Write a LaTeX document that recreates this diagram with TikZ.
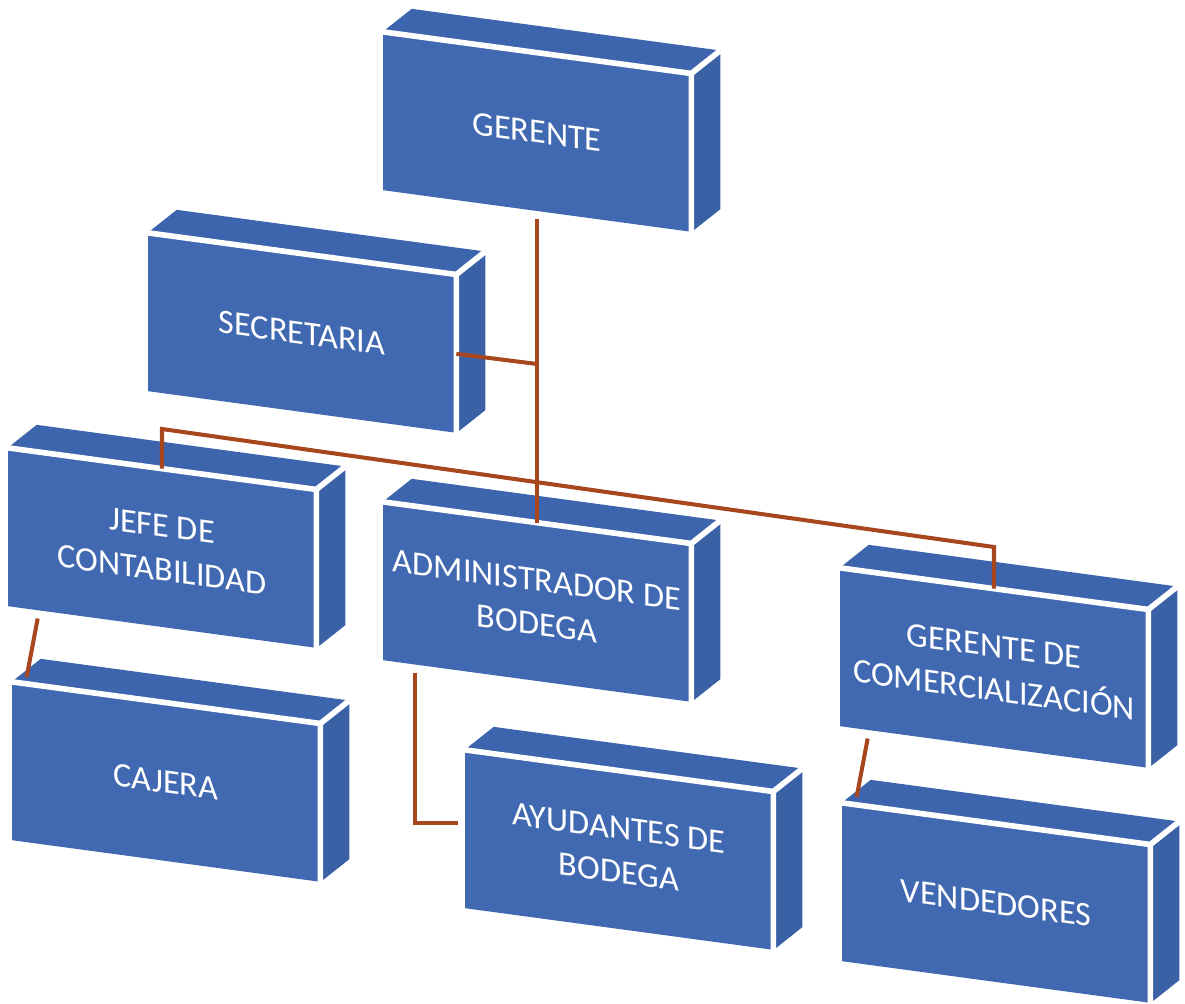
\documentclass[tikz,border=0pt]{standalone}
\usepackage{fontspec}
\setmainfont{Carlito}
\usetikzlibrary{calc}
\definecolor{cajafrente}{HTML}{4169B1}
\definecolor{cajatapa}{HTML}{3D65AD}
\definecolor{cajalado}{HTML}{3A60A6}
\definecolor{linea}{HTML}{A8461E}

\begin{document}
\begin{tikzpicture}[x=0.02cm, y=-0.02cm]
\tikzset{caja/.style={fill=cajafrente, text=white, yslant=-0.135, minimum width=6.16cm, minimum height=3.16cm, inner sep=0pt, align=center, font=\fontsize{19.5}{25}\selectfont},
  enlace/.style={draw=linea, line width=2.3pt},
  borde/.style={draw=white, line width=3.2pt}}
\useasboundingbox (0,0) rectangle (1185,1003);
\node[caja] (gerente) at (537,132) {GERENTE};
\node[caja] (secretaria) at (302,333) {SECRETARIA};
\node[caja] (jefe) at (162,548) {JEFE DE\\CONTABILIDAD};
\node[caja] (admin) at (537,602) {ADMINISTRADOR DE\\BODEGA};
\node[caja] (gdc) at (994,668) {GERENTE DE\\COMERCIALIZACIÓN};
\node[caja] (cajera) at (166,782) {CAJERA};
\node[caja] (ayudantes) at (619,850) {AYUDANTES DE\\BODEGA};
\node[caja] (vendedores) at (996,903) {VENDEDORES};
% caras de arriba y del lado
\foreach \n in {gerente,secretaria,jefe,admin,gdc,cajera,ayudantes,vendedores}{
  \fill[cajatapa] (\n.north west) -- ++(29,-23) -- ([shift={(29,-23)}]\n.north east) -- (\n.north east) -- cycle;
  \fill[cajalado] (\n.north east) -- ++(29,-23) -- ([shift={(29,-23)}]\n.south east) -- (\n.south east) -- cycle;
  \draw[borde] (\n.north west) -- (\n.north east) -- (\n.south east) (\n.north east) -- ++(29,-23);
}
\coordinate (sec) at (537,364);
\coordinate (bus1) at (162,429);
\coordinate (bus2) at (994,547);
\draw[enlace] ([shift={(0,8)}]gerente.south) -- (admin.north);
\draw[enlace] (secretaria.east) -- (sec);
\draw[enlace] (jefe.north) -- (bus1) -- (bus2) -- (gdc.north);
\draw[enlace] ([shift={(30,12)}]jefe.south west) -- ([shift={(15,-5)}]cajera.north west);
\draw[enlace] ([shift={(32,12)}]admin.south west) |- ([shift={(-7,-6)}]ayudantes.west);
\draw[enlace] ([shift={(28,12)}]gdc.south west) -- ([shift={(15,-6)}]vendedores.north west);
\end{tikzpicture}
\end{document}
